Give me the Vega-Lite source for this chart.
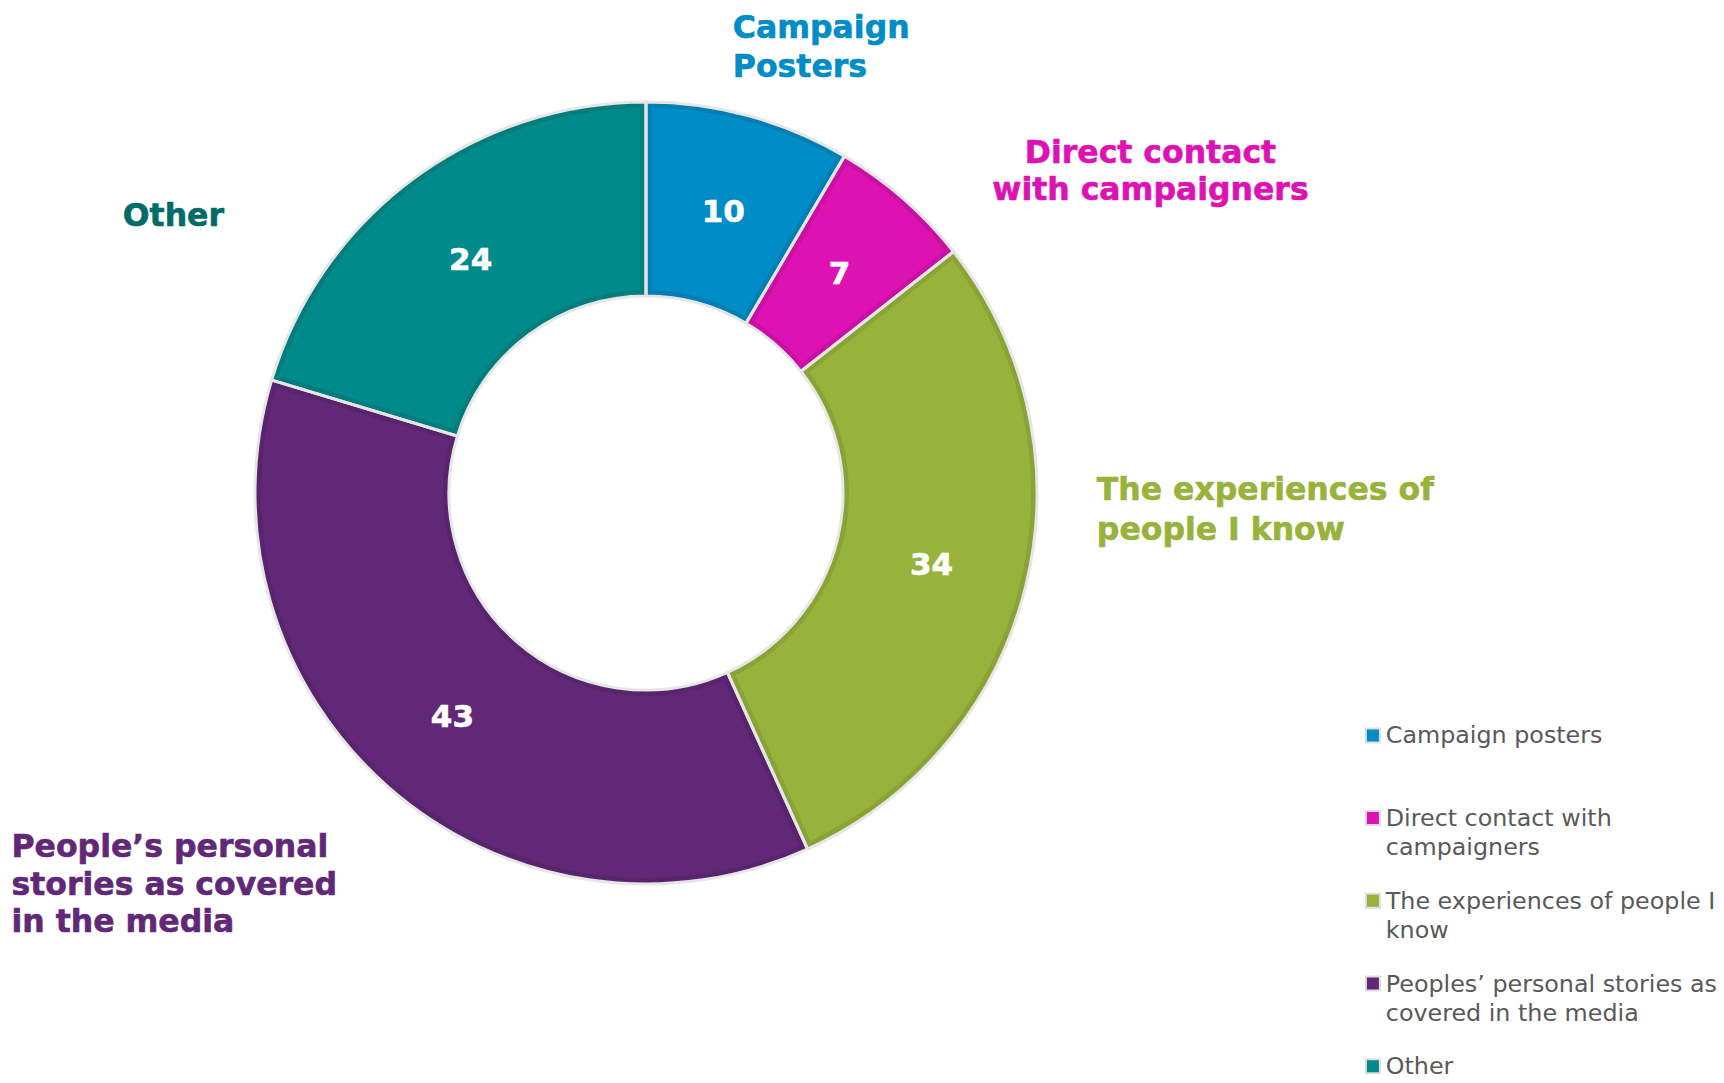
{
  "$schema": "https://vega.github.io/schema/vega-lite/v6.json",
  "width": 1292,
  "height": 986,
  "padding": 0,
  "background": "white",
  "config": {"view": {"stroke": null}, "font": "DejaVu Sans"},
  "data": {
    "values": [
      {"cat": "Campaign posters|", "n": 10, "label": ["Campaign", "Posters"]},
      {"cat": "Direct contact with|campaigners", "n": 7, "label": ["Direct contact", "with campaigners"]},
      {"cat": "The experiences of people I|know", "n": 34, "label": ["The experiences of", "people I know"]},
      {"cat": "Peoples’ personal stories as|covered in the media", "n": 43, "label": ["People’s personal", "stories as covered", "in the media"]},
      {"cat": "Other|", "n": 24, "label": ["Other"]}
    ]
  },
  "transform": [{"window": [{"op": "row_number", "as": "rank"}]}],
  "encoding": {
    "theta": {"field": "n", "type": "quantitative", "stack": true},
    "order": {"field": "rank", "type": "quantitative"}
  },
  "layer": [
    {
      "mark": {"type": "arc", "radius": 391, "radius2": 197},
      "encoding": {
        "color": {
          "field": "cat", "type": "nominal",
          "scale": {
            "domain": ["Campaign posters|", "Direct contact with|campaigners", "The experiences of people I|know", "Peoples’ personal stories as|covered in the media", "Other|"],
            "range": ["#008CC6", "#DD12B3", "#98B33C", "#612877", "#008A89"]
          },
          "legend": {
            "orient": "none", "legendX": 1361, "legendY": 723.5, "title": null,
            "labelExpr": "split(datum.label, '|')",
            "labelFont": "DejaVu Sans", "labelFontSize": 23.8, "labelColor": "#595959",
            "labelLimit": 500, "labelBaseline": "alphabetic", "labelOffset": 1,
            "symbolType": "square", "symbolSize": 196, "symbolStrokeColor": "#dddddd", "symbolStrokeWidth": 2,
            "rowPadding": 28.7, "gridAlign": "all", "padding": 0,
            "encode": {"labels": {"update": {"lineHeight": {"value": 29}, "dy": {"value": 8}}}}
          }
        }
      }
    },
    {
      "mark": {"type": "arc", "radius": 391, "radius2": 197, "color": "black", "opacity": 0.09}
    },
    {
      "mark": {"type": "arc", "radius": 385, "radius2": 203, "padAngle": 0.028},
      "encoding": {"color": {"field": "cat", "type": "nominal"}}
    },
    {
      "mark": {"type": "arc", "radius": 391, "radius2": 197, "filled": false, "stroke": "#e6e6e6", "strokeWidth": 3}
    },
    {
      "mark": {"type": "text", "radius": 294, "fontSize": 31, "fontWeight": "bold", "color": "white", "font": "DejaVu Sans", "dy": 3.5, "stroke": "white", "strokeWidth": 0.6},
      "encoding": {"text": {"field": "n", "type": "quantitative"}}
    },
    {
      "mark": {"type": "text", "radius": 391, "font": "DejaVu Sans", "fontWeight": "bold", "fontSize": 31.5, "lineHeight": 39, "align": "left", "baseline": "alphabetic", "color": "#008CC6", "stroke": "#008CC6", "strokeWidth": 0.6, "dx": -16, "dy": -78},
      "encoding": {"text": {"condition": {"test": "datum.rank == 1", "field": "label", "type": "nominal"}, "value": ""}}
    },
    {
      "mark": {"type": "text", "radius": 391, "font": "DejaVu Sans", "fontWeight": "bold", "fontSize": 31.5, "lineHeight": 37, "align": "center", "baseline": "alphabetic", "color": "#DD12B3", "stroke": "#DD12B3", "strokeWidth": 0.6, "dx": 247, "dy": -36},
      "encoding": {"text": {"condition": {"test": "datum.rank == 2", "field": "label", "type": "nominal"}, "value": ""}}
    },
    {
      "mark": {"type": "text", "radius": 391, "font": "DejaVu Sans", "fontWeight": "bold", "fontSize": 31.5, "lineHeight": 40, "align": "left", "baseline": "alphabetic", "color": "#98B33C", "stroke": "#98B33C", "strokeWidth": 0.6, "dx": 71, "dy": -86},
      "encoding": {"text": {"condition": {"test": "datum.rank == 3", "field": "label", "type": "nominal"}, "value": ""}}
    },
    {
      "mark": {"type": "text", "radius": 391, "font": "DejaVu Sans", "fontWeight": "bold", "fontSize": 31.5, "lineHeight": 37.5, "align": "left", "baseline": "alphabetic", "color": "#612877", "stroke": "#612877", "strokeWidth": 0.6, "dx": -377, "dy": 70},
      "encoding": {"text": {"condition": {"test": "datum.rank == 4", "field": "label", "type": "nominal"}, "value": ""}}
    },
    {
      "mark": {"type": "text", "radius": 391, "font": "DejaVu Sans", "fontWeight": "bold", "fontSize": 31.5, "lineHeight": 38, "align": "left", "baseline": "alphabetic", "color": "#006B67", "stroke": "#006B67", "strokeWidth": 0.6, "dx": -290, "dy": 47},
      "encoding": {"text": {"condition": {"test": "datum.rank == 5", "field": "label", "type": "nominal"}, "value": ""}}
    }
  ]
}
